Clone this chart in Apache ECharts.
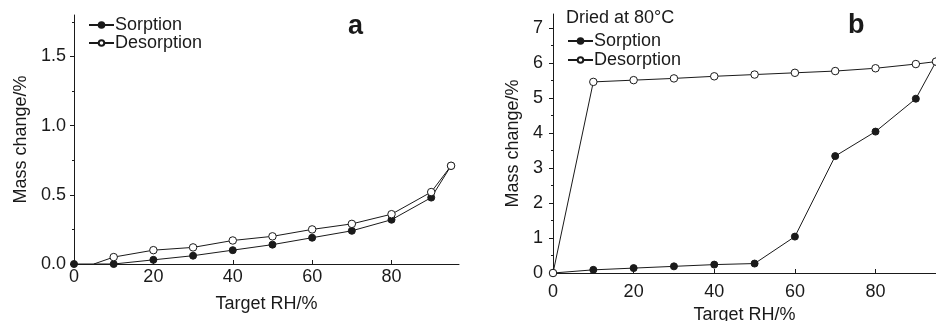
<!DOCTYPE html>
<html>
<head>
<meta charset="utf-8">
<script src="https://cdn.jsdelivr.net/npm/echarts@6/dist/echarts.min.js"></script>
<style>html,body{margin:0;padding:0;background:#fff}#c{width:936px;height:321px}</style>
</head>
<body>
<div id="c"></div>
<script>
// Panel a data
const rhA = [0, 10, 20, 30, 40, 50, 60, 70, 80, 90, 95];
const sorptionA = [0, 0, 0.03, 0.06, 0.10, 0.14, 0.19, 0.24, 0.32, 0.48, 0.71];
const rhDesA = [5, 10, 20, 30, 40, 50, 60, 70, 80, 90, 95];
const desorptionA = [0, 0.05, 0.10, 0.12, 0.17, 0.20, 0.25, 0.29, 0.36, 0.52, 0.71];
// Panel b data
const rhB = [0, 10, 20, 30, 40, 50, 60, 70, 80, 90, 95];
const sorptionB = [0, 0.09, 0.14, 0.19, 0.24, 0.27, 1.04, 3.34, 4.04, 4.98, 6.04];
const desorptionB = [0, 5.46, 5.51, 5.56, 5.62, 5.67, 5.72, 5.77, 5.85, 5.97, 6.04];
// Tick labels
const xTicks = [0, 20, 40, 60, 80];
const yTicksA = [0, 0.5, 1.0, 1.5];
const yTicksB = [0, 1, 2, 3, 4, 5, 6, 7];

const FONT = "'Liberation Sans', Arial, sans-serif";
const INK = '#1a1a1a';
const FS = 18;

function pairs(xs, ys) { return xs.map((x, i) => [x, ys[i]]); }

const desA = pairs(rhDesA, desorptionA);
desA[0] = { value: desA[0], symbol: 'none' };

function lineSeries(name, data, xi, filled) {
  return {
    name: name, type: 'line', xAxisIndex: xi, yAxisIndex: xi, data: data,
    symbol: 'circle', symbolSize: filled ? 7 : 7.5,
    showAllSymbol: true, clip: false,
    lineStyle: { color: INK, width: 1, type: 'solid' },
    itemStyle: { color: filled ? INK : '#ffffff', borderColor: INK, borderWidth: 1, opacity: 1 },
    emphasis: { disabled: true },
    animation: false
  };
}

function xAxis(gi, max, margin, nameGap) {
  return {
    type: 'value', gridIndex: gi, min: 0, max: max, interval: 20,
    name: 'Target RH/%', nameLocation: 'middle', nameGap: nameGap,
    nameTextStyle: { fontFamily: FONT, fontSize: FS, color: INK },
    axisLine: { show: true, lineStyle: { color: INK, width: 1 } },
    axisTick: { show: true, inside: true, length: 4, customValues: xTicks, lineStyle: { color: INK } },
    minorTick: { show: false },
    axisLabel: { customValues: xTicks, fontFamily: FONT, fontSize: FS, color: INK, margin: margin },
    splitLine: { show: false }
  };
}

function yAxis(gi, max, interval, ticks, margin, nameGap, fmt) {
  return {
    type: 'value', gridIndex: gi, min: 0, max: max, interval: interval,
    name: 'Mass change/%', nameLocation: 'middle', nameGap: nameGap,
    nameTextStyle: { fontFamily: FONT, fontSize: FS, color: INK },
    axisLine: { show: true, lineStyle: { color: INK, width: 1 } },
    axisTick: { show: true, inside: false, length: 4, customValues: ticks, lineStyle: { color: INK } },
    minorTick: { show: true, splitNumber: 2, length: 2, lineStyle: { color: INK } },
    axisLabel: { customValues: ticks, fontFamily: FONT, fontSize: FS, color: INK, margin: margin, formatter: fmt },
    splitLine: { show: false }
  };
}

const chart = echarts.init(document.getElementById('c'), null, { renderer: 'canvas' });
chart.setOption({
  animation: false,
  backgroundColor: '#fff',
  grid: [
    { left: 74, top: 15, width: 385, height: 249, containLabel: false, outerBoundsMode: 'none' },
    { left: 553, top: 14, width: 383, height: 259, containLabel: false, outerBoundsMode: 'none' }
  ],
  xAxis: [xAxis(0, 97, 4, 31), xAxis(1, 95, 10, 32)],
  yAxis: [
    yAxis(0, 1.8, 0.5, yTicksA, 8, 44, v => v.toFixed(1)),
    yAxis(1, 7.4, 1, yTicksB, 10, 31, v => String(v))
  ],
  legend: [
    {
      left: 88, top: 16, orient: 'vertical', itemWidth: 25, itemHeight: 7, itemGap: 0,
      textStyle: { fontFamily: FONT, fontSize: FS, color: INK, padding: [0, 0, 0, -4] },
      data: ['Sorption', 'Desorption'], selectedMode: false, padding: 0
    },
    {
      left: 567, top: 32, orient: 'vertical', itemWidth: 25, itemHeight: 7, itemGap: 1,
      textStyle: { fontFamily: FONT, fontSize: FS, color: INK, padding: [0, 0, 0, -4] },
      data: ['Sorption', 'Desorption'], selectedMode: false, padding: 0
    }
  ],
  graphic: [
    { type: 'text', left: 348, top: 13, style: { text: 'a', font: "bold 27px 'Liberation Sans', Arial", fill: INK } },
    { type: 'text', left: 848, top: 12, style: { text: 'b', font: "bold 27px 'Liberation Sans', Arial", fill: INK } },
    { type: 'text', left: 566, top: 9, style: { text: 'Dried at 80°C', font: "18px 'Liberation Sans', Arial", fill: INK } }
  ],
  series: [
    lineSeries('Sorption', pairs(rhA, sorptionA), 0, true),
    lineSeries('Desorption', desA, 0, false),
    lineSeries('Sorption', pairs(rhB, sorptionB), 1, true),
    lineSeries('Desorption', pairs(rhB, desorptionB), 1, false)
  ]
});
</script>
</body>
</html>
